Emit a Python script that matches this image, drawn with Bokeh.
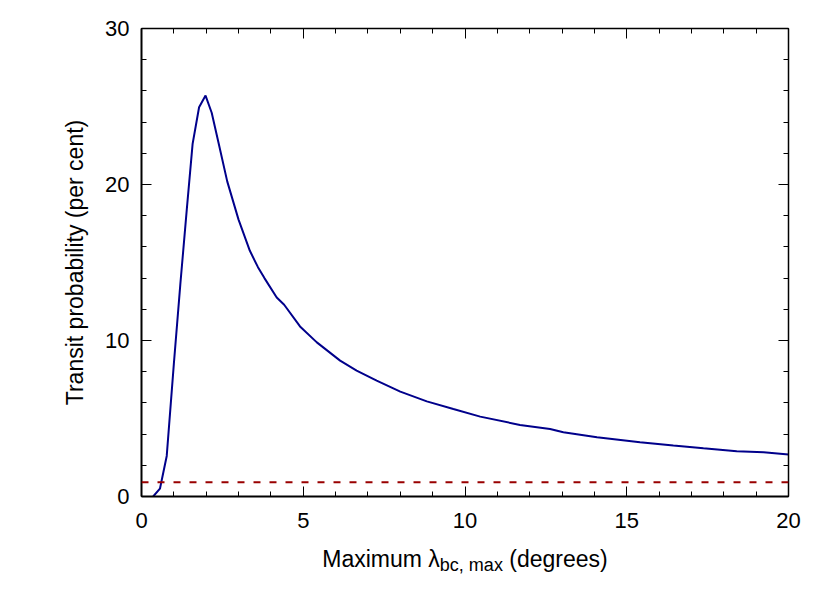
from bokeh.plotting import figure
from bokeh.models import (Range1d, LinearAxis, SingleIntervalTicker, Span, Label,
                          CustomJSTickFormatter)
from bokeh.embed import file_html
from bokeh.resources import INLINE

# ---- data ----
lam_max = [0.36, 0.57, 0.78, 1.00, 1.20, 1.40, 1.58, 1.78, 1.98, 2.17, 2.40, 2.65,
           3.00, 3.35, 3.60, 3.80, 4.18, 4.41, 4.90, 5.42, 6.14, 6.65, 7.27, 8.00,
           8.82, 9.64, 10.47, 11.70, 12.63, 13.04, 14.08, 15.41, 16.44, 17.37,
           18.40, 19.23, 20.00]
transit_prob = [0.0, 0.5, 2.6, 8.5, 13.6, 18.4, 22.6, 24.95, 25.7, 24.6, 22.5, 20.2,
                17.75, 15.75, 14.7, 14.0, 12.76, 12.29, 10.9, 9.88, 8.71, 8.07, 7.43, 6.72,
                6.10, 5.61, 5.12, 4.59, 4.33, 4.12, 3.80, 3.48, 3.27, 3.09,
                2.90, 2.84, 2.69]
threshold = [0.92]
x_limits = [0, 20]
y_limits = [0, 30]
x_major_step = 5
y_major_step = 10
x_label_parts = ["Maximum λ", "bc, max", "(degrees)"]
y_label = "Transit probability (per cent)"

FONT = "Liberation Sans"
TICK_SIZE = 22
LABEL_SIZE = 23
SUB_SIZE = 18

p = figure(width=826, height=590, output_backend="svg", toolbar_location=None,
           x_range=Range1d(*x_limits), y_range=Range1d(*y_limits),
           x_axis_location=None, y_axis_location=None,
           min_border_left=141, min_border_right=38, min_border_top=28, min_border_bottom=94)
p.xgrid.visible = False
p.ygrid.visible = False
p.outline_line_color = None


def make_axis(step, show_labels, lw):
    ax = LinearAxis(ticker=SingleIntervalTicker(interval=step, num_minor_ticks=5))
    ax.major_tick_in = 10
    ax.major_tick_out = 0
    ax.minor_tick_in = 5
    ax.minor_tick_out = 0
    ax.major_tick_line_color = "black"
    ax.minor_tick_line_color = "black"
    ax.axis_line_color = "black"
    ax.axis_line_width = lw
    ax.major_label_text_font = FONT
    ax.major_label_text_font_size = f"{TICK_SIZE}px"
    ax.major_label_text_color = "black"
    if not show_labels:
        ax.formatter = CustomJSTickFormatter(code="return ''")
        ax.major_label_standoff = 0
    return ax


xb = make_axis(x_major_step, True, 2)
xb.major_label_standoff = 16
yl = make_axis(y_major_step, True, 2)
yl.major_label_standoff = 12
yl.axis_label = y_label
yl.axis_label_text_font = FONT
yl.axis_label_text_font_size = f"{LABEL_SIZE}px"
yl.axis_label_text_font_style = "normal"
yl.axis_label_text_color = "black"
yl.axis_label_standoff = 14
xt = make_axis(x_major_step, False, 1.5)
yr = make_axis(y_major_step, False, 1.5)
p.add_layout(xb, "below")
p.add_layout(yl, "left")
p.add_layout(xt, "above")
p.add_layout(yr, "right")

p.line(lam_max, transit_prob, line_color="#00008b", line_width=2)
p.add_layout(Span(location=threshold[0], dimension="width", line_color="#990000",
                  line_width=2, line_dash="7 9"))

# x-axis label with subscript, composed of three pieces (positioned relative to the frame)
W = {'M': .833, 'a': .556, 'x': .5, 'i': .222, 'm': .833, 'u': .556, ' ': .278,
     'λ': .5, 'b': .556, 'c': .5, ',': .278, '(': .333, ')': .333, 'd': .556,
     'e': .556, 'g': .556, 'r': .333, 's': .5}


def tw(s, size):
    return sum(W.get(ch, .556) for ch in s) * size


t1, t2, t3 = x_label_parts
gap = W[' '] * LABEL_SIZE
w1, w2, w3 = tw(t1, LABEL_SIZE), tw(t2, SUB_SIZE), tw(t3, LABEL_SIZE)
start = -(w1 + w2 + gap + w3) / 2
xc = (x_limits[0] + x_limits[1]) / 2
base = -62
pieces = [(t1, start, LABEL_SIZE, 0, "below"),
          (t2, start + w1, SUB_SIZE, -6, "above"),
          (t3, start + w1 + w2 + gap, LABEL_SIZE, 0, "below")]
for txt, off, size, dy, side in pieces:
    p.add_layout(Label(x=xc, y=y_limits[0], x_offset=off, y_offset=base + dy, text=txt,
                       text_align="left", text_baseline="alphabetic",
                       text_font=FONT, text_font_size=f"{size}px", text_color="black"),
                 side)

open("out.html", "w").write(file_html(p, INLINE))
